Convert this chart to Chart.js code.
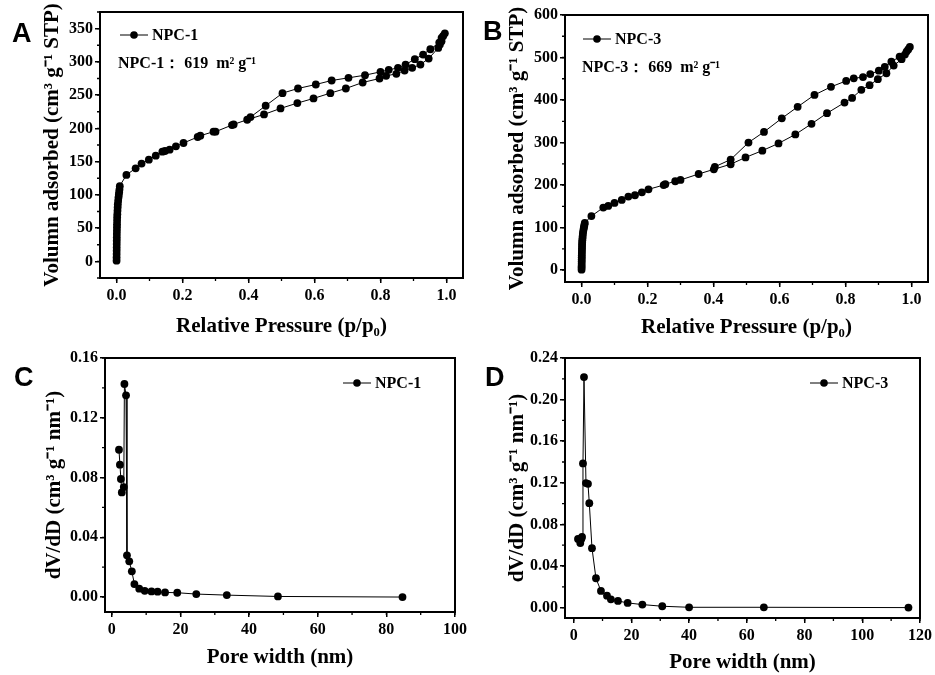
<!DOCTYPE html>
<html>
<head>
<meta charset="utf-8">
<script src="https://cdn.jsdelivr.net/npm/chart.js@4.4.1/dist/chart.umd.min.js"></script>
<style>
  body { margin: 0; background: #fff; width: 935px; height: 675px; position: relative; overflow: hidden; }
  .panel { position: absolute; }
  .tag { position: absolute; font: bold 27px "Liberation Sans", Arial, sans-serif; line-height: 1; color: #000; }
</style>
</head>
<body>
<div class="panel" style="left:0;top:0"><canvas id="chartA" width="467" height="340"></canvas></div>
<div class="panel" style="left:467px;top:0"><canvas id="chartB" width="468" height="340"></canvas></div>
<div class="panel" style="left:0;top:340px"><canvas id="chartC" width="470" height="335"></canvas></div>
<div class="panel" style="left:467px;top:340px"><canvas id="chartD" width="468" height="335"></canvas></div>
<div class="tag" style="left:12px;top:20px">A</div>
<div class="tag" style="left:483px;top:18px">B</div>
<div class="tag" style="left:14px;top:364px">C</div>
<div class="tag" style="left:485px;top:364px">D</div>

<script>
// A: NPC-1 N2 isotherm (adsorption then desorption)
const adsP1 = [0.0002, 0.0003, 0.0004, 0.0005, 0.0006, 0.0007, 0.0008, 0.0009, 0.001, 0.0012, 0.0014, 0.0016,
  0.0018, 0.002, 0.0025, 0.003, 0.0035, 0.004, 0.005, 0.006, 0.007, 0.008, 0.009, 0.01,
  0.03, 0.058, 0.076, 0.098, 0.119, 0.139, 0.147, 0.161, 0.18, 0.203, 0.246, 0.254, 0.294, 0.3,
  0.35, 0.355, 0.396, 0.447, 0.497, 0.548, 0.597, 0.648, 0.695, 0.746, 0.797, 0.817, 0.848,
  0.873, 0.896, 0.921, 0.946, 0.975, 0.98, 0.985, 0.99, 0.995];
const adsV1 = [1, 6, 11, 16, 21, 26, 31, 36, 41, 46, 51, 56,
  61, 66, 71, 76, 81, 86, 91, 96, 100, 104, 108, 113,
  130, 140, 147, 153, 159, 165, 166, 168, 173, 178, 187, 189, 195, 195,
  205, 206, 213, 221, 230, 238, 245, 253, 260, 269, 275, 279, 282,
  287, 291, 296, 305, 321, 326, 331, 339, 343];
const desP1 = [0.985, 0.978, 0.951, 0.929, 0.904, 0.876, 0.853, 0.825, 0.8, 0.753, 0.703, 0.652, 0.604, 0.55, 0.503, 0.452, 0.406];
const desV1 = [336, 329, 319, 311, 304, 296, 291, 288, 285, 280, 276, 272, 266, 260, 253, 234, 217];

// B: NPC-3 N2 isotherm
const adsP3 = [0.0002, 0.0003, 0.0004, 0.0005, 0.0006, 0.0007, 0.0008, 0.0009, 0.001, 0.0012, 0.0014, 0.0016,
  0.0018, 0.002, 0.0025, 0.003, 0.0035, 0.004, 0.005, 0.006, 0.007, 0.008, 0.009, 0.01,
  0.03, 0.066, 0.081, 0.1, 0.122, 0.142, 0.162, 0.183, 0.203, 0.249, 0.254, 0.284, 0.3,
  0.355, 0.401, 0.452, 0.497, 0.548, 0.597, 0.648, 0.697, 0.744, 0.797, 0.82, 0.848,
  0.873, 0.898, 0.924, 0.946, 0.97, 0.98, 0.99, 0.995];
const adsV3 = [1, 6, 10, 15, 20, 25, 30, 35, 40, 45, 50, 55,
  60, 65, 70, 75, 80, 85, 90, 95, 99, 103, 107, 111,
  127, 147, 151, 158, 165, 173, 176, 183, 190, 200, 202, 209, 212,
  226, 237, 249, 265, 281, 298, 319, 344, 369, 394, 405, 424,
  435, 449, 463, 481, 496, 507, 519, 525];
const desP3 = [0.985, 0.964, 0.939, 0.919, 0.901, 0.875, 0.853, 0.825, 0.802, 0.756, 0.706, 0.655, 0.607, 0.553, 0.506, 0.452, 0.404];
const desV3 = [514, 502, 490, 478, 469, 461, 454, 451, 445, 431, 412, 384, 357, 325, 300, 260, 243];

// C: NPC-1 pore size distribution
const poreW1 = [2.07, 2.35, 2.63, 2.9, 3.47, 3.66, 4.13, 4.4, 5.07, 5.82, 6.57, 7.98, 9.58, 11.55, 13.33, 15.5, 19.06, 24.6, 33.5, 48.4, 84.7];
const dvdd1 = [0.0986, 0.0886, 0.079, 0.070, 0.0736, 0.1426, 0.135, 0.0279, 0.0239, 0.0172, 0.0087, 0.0056, 0.0042, 0.0038, 0.0036, 0.0031, 0.0029, 0.0020, 0.0013, 0.0004, 0.0];

// D: NPC-3 pore size distribution
const poreW3 = [1.5, 2.3, 2.65, 2.9, 3.23, 3.58, 4.27, 4.96, 5.42, 6.35, 7.73, 9.46, 11.54, 12.9, 15.35, 18.7, 23.8, 30.7, 40, 65.9, 116];
const dvdd3 = [0.066, 0.062, 0.066, 0.068, 0.1386, 0.2217, 0.1197, 0.119, 0.1004, 0.0571, 0.0282, 0.016, 0.0115, 0.008, 0.0064, 0.0045, 0.0029, 0.0013, 0.0003, 0.0003, 0.0];

// tick labels
const pTicks = [0, 0.2, 0.4, 0.6, 0.8, 1.0];
const vTicks1 = [0, 50, 100, 150, 200, 250, 300, 350];
const vTicks3 = [0, 100, 200, 300, 400, 500, 600];
const wTicks1 = [0, 20, 40, 60, 80, 100];
const dTicks1 = [0, 0.04, 0.08, 0.12, 0.16];
const wTicks3 = [0, 20, 40, 60, 80, 100, 120];
const dTicks3 = [0, 0.04, 0.08, 0.12, 0.16, 0.20, 0.24];

const serif = '"Liberation Serif", "Times New Roman", serif';

// box frame, short minor ticks and the in-plot legend / note
const framePlugin = {
  id: 'frame',
  afterDraw(chart, args, o) {
    const { ctx, chartArea: a } = chart;
    const xs = chart.scales.x, ys = chart.scales.y;
    ctx.save();
    ctx.strokeStyle = '#000';
    ctx.lineWidth = 1.3;
    ctx.beginPath();
    for (let k = Math.ceil(xs.min / o.xMinor - 1e-9); k * o.xMinor <= xs.max + 1e-9; k++) {
      const px = xs.getPixelForValue(k * o.xMinor);
      ctx.moveTo(px, a.bottom);
      ctx.lineTo(px, a.bottom + 3);
    }
    for (let k = Math.ceil(ys.min / o.yMinor - 1e-9); k * o.yMinor <= ys.max + 1e-9; k++) {
      const py = ys.getPixelForValue(k * o.yMinor);
      ctx.moveTo(a.left, py);
      ctx.lineTo(a.left - 3, py);
    }
    ctx.stroke();
    ctx.lineWidth = 2;
    ctx.strokeRect(a.left, a.top, a.right - a.left, a.bottom - a.top);

    const ds = chart.data.datasets[0];
    const lx = o.legendRight != null ? a.right - o.legendRight : a.left + o.legendX;
    const ly = a.top + o.legendY;
    ctx.lineWidth = 1;
    ctx.beginPath();
    ctx.moveTo(lx, ly);
    ctx.lineTo(lx + 28, ly);
    ctx.stroke();
    ctx.fillStyle = '#000';
    ctx.beginPath();
    ctx.arc(lx + 14, ly, 3.8, 0, Math.PI * 2);
    ctx.fill();
    ctx.font = 'bold 16px ' + serif;
    ctx.textBaseline = 'middle';
    ctx.fillText(ds.label, lx + 32, ly + 1);
    if (o.note) {
      ctx.fillText(o.note, a.left + o.noteX, a.top + o.noteY);
    }
    ctx.restore();
  }
};

function toPoints(xs, ys) {
  return xs.map((x, i) => ({ x: x, y: ys[i] }));
}

function axis(min, max, ticks, fmt, title, size, pad, isX) {
  return {
    type: 'linear',
    min: min,
    max: max,
    afterBuildTicks: s => { s.ticks = ticks.map(v => ({ value: v })); },
    afterFit: s => { if (isX) s.height = size; else s.width = size; },
    grid: { display: true, drawOnChartArea: false, drawTicks: true, tickLength: 5, tickColor: '#000', lineWidth: 1.5 },
    border: { display: false },
    ticks: {
      color: '#000',
      font: { family: serif, size: 16, weight: 'bold' },
      padding: isX ? 3 : 2,
      maxRotation: 0,
      callback: fmt
    },
    title: {
      display: true,
      text: title,
      color: '#000',
      font: { family: serif, size: 21, weight: 'bold' },
      padding: pad
    }
  };
}

function makePanel(id, cfg) {
  new Chart(document.getElementById(id), {
    type: 'scatter',
    data: {
      datasets: [{
        label: cfg.label,
        data: cfg.data,
        showLine: true,
        borderColor: '#000',
        borderWidth: 1,
        backgroundColor: '#000',
        pointRadius: 3.9,
        pointBorderWidth: 0,
        tension: 0
      }]
    },
    options: {
      responsive: false,
      animation: false,
      devicePixelRatio: 1,
      layout: { padding: cfg.padding },
      plugins: {
        legend: { display: false },
        tooltip: { enabled: false },
        frame: cfg.frame
      },
      scales: { x: cfg.x, y: cfg.y }
    },
    plugins: [framePlugin]
  });
}

const fmt1 = v => v.toFixed(1);
const fmt0 = v => String(v);
const fmt2 = v => v.toFixed(2);

makePanel('chartA', {
  label: 'NPC-1',
  data: toPoints(adsP1.concat(desP1), adsV1.concat(desV1)),
  padding: { top: 12, right: 4, left: 0, bottom: 0 },
  frame: { xMinor: 0.1, yMinor: 25, legendX: 20, legendY: 23, note: 'NPC-1： 619  m² g⁻¹', noteX: 18, noteY: 52 },
  x: axis(-0.05, 1.05, pTicks, fmt1, 'Relative Pressure (p/p₀)', 62, { bottom: 1 }, true),
  y: axis(-25, 375, vTicks1, fmt0, 'Volumn adsorbed (cm³ g⁻¹ STP)', 100, { top: 40 }, false)
});

makePanel('chartB', {
  label: 'NPC-3',
  data: toPoints(adsP3.concat(desP3), adsV3.concat(desV3)),
  padding: { top: 15, right: 7, left: 0, bottom: 0 },
  frame: { xMinor: 0.1, yMinor: 50, legendX: 18, legendY: 24, note: 'NPC-3： 669  m² g⁻¹', noteX: 17, noteY: 53 },
  x: axis(-0.05, 1.05, pTicks, fmt1, 'Relative Pressure (p/p₀)', 58, { bottom: 0 }, true),
  y: axis(-28, 600, vTicks3, fmt0, 'Volumn adsorbed (cm³ g⁻¹ STP)', 98, { top: 38 }, false)
});

makePanel('chartC', {
  label: 'NPC-1',
  data: toPoints(poreW1, dvdd1),
  padding: { top: 18, right: 3, left: 0, bottom: 0 },
  frame: { xMinor: 10, yMinor: 0.02, legendRight: 112, legendY: 25 },
  x: axis(-2, 100, wTicks1, fmt0, 'Pore width (nm)', 63, { bottom: 5 }, true),
  y: axis(-0.01, 0.16, dTicks1, fmt2, 'dV/dD (cm³ g⁻¹ nm⁻¹)', 105, { top: 42 }, false)
});

makePanel('chartD', {
  label: 'NPC-3',
  data: toPoints(poreW3, dvdd3),
  padding: { top: 18, right: 13, left: 0, bottom: 0 },
  frame: { xMinor: 10, yMinor: 0.02, legendRight: 110, legendY: 25 },
  x: axis(-3, 120, wTicks3, fmt0, 'Pore width (nm)', 57, { bottom: 0 }, true),
  y: axis(-0.01, 0.24, dTicks3, fmt2, 'dV/dD (cm³ g⁻¹ nm⁻¹)', 98, { top: 38 }, false)
});
</script>
</body>
</html>
